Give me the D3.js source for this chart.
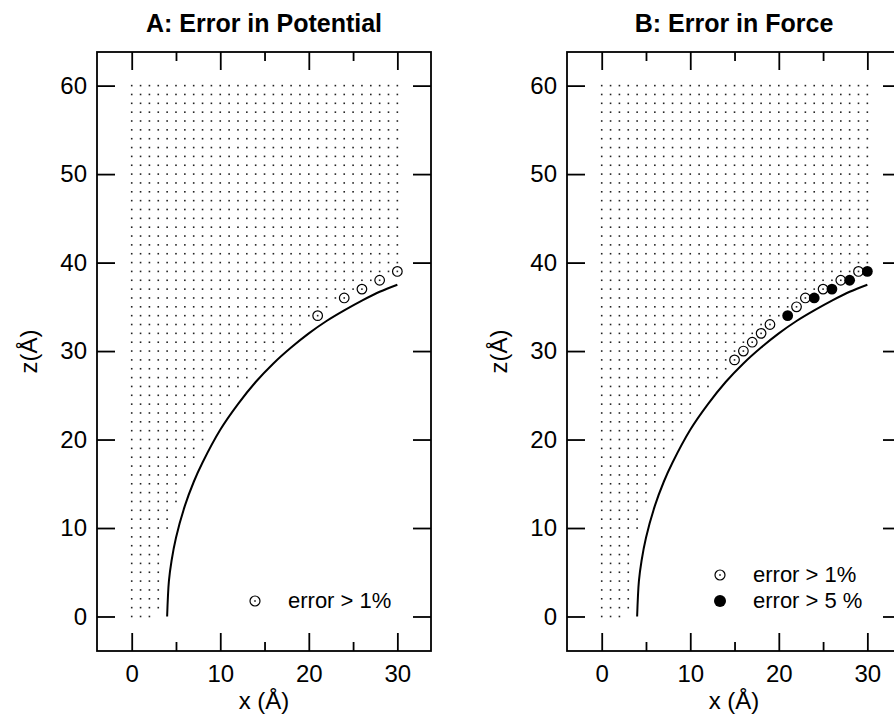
<!DOCTYPE html>
<html>
<head>
<meta charset="utf-8">
<script src="https://cdn.jsdelivr.net/npm/d3@7"></script>
<style>
body { margin: 0; background: #fff; }
svg { display: block; font-family: "Liberation Sans", Arial, sans-serif; }
.axis path { display: none; }
.axis line { stroke: #000; stroke-width: 1.8; }
.axis text { font-size: 24px; fill: #000; font-family: "Liberation Sans", Arial, sans-serif; }
</style>
</head>
<body>
<svg width="894" height="719"></svg>
<script>
// grid of sample points (Å)
const gridX = d3.range(0, 31);
const gridZ = d3.range(0, 61);
// last grid x kept in each row z = 0..38 (rows above keep all 31 points)
const rowMaxX = [2,3,3,3,3,3,3,3,3,3,4,4,4,5,5,5,6,6,7,7,8,8,9,10,10,11,12,13,14,15,16,17,18,19,21,22,24,26,28];

// boundary curve
const curveX = [4, 4.2, 4.5, 5, 6, 7, 8, 10, 12, 14, 16, 18, 20, 22, 24, 26, 28, 30];
const curveZ = [0, 4.0, 6.3, 8.9, 12.5, 15.2, 17.4, 21.1, 24, 26.5, 28.6, 30.4, 32, 33.4, 34.6, 35.7, 36.7, 37.5];

// points with error > 1% (open) and > 5% (filled)
const potOpenX = [21, 24, 26, 28, 30];
const potOpenZ = [34, 36, 37, 38, 39];
const forceOpenX = [15, 16, 17, 18, 19, 22, 23, 25, 27, 29];
const forceOpenZ = [29, 30, 31, 32, 33, 35, 36, 37, 38, 39];
const forceFullX = [21, 24, 26, 28, 30];
const forceFullZ = [34, 36, 37, 38, 39];

const xTicks = [0, 10, 20, 30];
const xMinor = [5, 15, 25];
const zTicks = [0, 10, 20, 30, 40, 50, 60];

const panels = [
  {left: 97, title: "A: Error in Potential", openX: potOpenX, openZ: potOpenZ, fullX: [], fullZ: [],
   legend: [{type: "open", label: "error > 1%", dx: 158, dy: 549}]},
  {left: 567, title: "B: Error in Force", openX: forceOpenX, openZ: forceOpenZ, fullX: forceFullX, fullZ: forceFullZ,
   legend: [{type: "open", label: "error > 1%", dx: 153, dy: 523},
            {type: "full", label: "error > 5 %", dx: 153, dy: 549}]}
];

const marginTop = 52, w = 334, h = 599;
const svg = d3.select("svg");

const x = d3.scaleLinear().domain([-3.92, 33.8]).range([0, w]);
const y = d3.scaleLinear().domain([-3.9, 63.8]).range([h, 0]);

// build dot list from rows
const dots = [];
gridZ.forEach(function(z) {
  const maxX = z < rowMaxX.length ? rowMaxX[z] : 30;
  gridX.forEach(function(gx) { if (gx <= maxX) dots.push([gx, z]); });
});

panels.forEach(function(p) {
  const g = svg.append("g").attr("transform", "translate(" + p.left + "," + marginTop + ")");

  // dots
  g.append("g").selectAll("rect")
    .data(dots)
    .enter()
    .append("rect")
    .attr("x", d => x(d[0]) - 0.8)
    .attr("y", d => y(d[1]) - 0.8)
    .attr("width", 1.6)
    .attr("height", 1.6)
    .attr("fill", "#222");

  // boundary
  const line = d3.line()
    .x(d => x(d[0]))
    .y(d => y(d[1]))
    .curve(d3.curveCatmullRom);
  g.append("path")
    .datum(curveX.map((cx, i) => [cx, curveZ[i]]))
    .attr("d", line)
    .attr("fill", "none")
    .attr("stroke", "#000")
    .attr("stroke-width", 2);

  // open markers
  g.append("g").selectAll("circle")
    .data(p.openX.map((ox, i) => [ox, p.openZ[i]]))
    .enter()
    .append("circle")
    .attr("cx", d => x(d[0]))
    .attr("cy", d => y(d[1]))
    .attr("r", 4.8)
    .attr("fill", "none")
    .attr("stroke", "#000")
    .attr("stroke-width", 1.2);

  // filled markers
  g.append("g").selectAll("circle")
    .data(p.fullX.map((fx, i) => [fx, p.fullZ[i]]))
    .enter()
    .append("circle")
    .attr("cx", d => x(d[0]))
    .attr("cy", d => y(d[1]))
    .attr("r", 5.4)
    .attr("fill", "#000");

  // axes, ticks pointing inward on all four sides
  g.append("g").attr("class", "axis")
    .attr("transform", "translate(0," + h + ")")
    .call(d3.axisBottom(x).tickValues(xTicks).tickSize(-18).tickSizeOuter(0).tickPadding(14));
  g.append("g").attr("class", "axis")
    .attr("transform", "translate(0," + h + ")")
    .call(d3.axisBottom(x).tickValues(xMinor).tickSize(-9).tickSizeOuter(0).tickFormat(""));
  g.append("g").attr("class", "axis")
    .call(d3.axisTop(x).tickValues(xTicks).tickSize(-18).tickSizeOuter(0).tickFormat(""));
  g.append("g").attr("class", "axis")
    .call(d3.axisTop(x).tickValues(xMinor).tickSize(-9).tickSizeOuter(0).tickFormat(""));
  g.append("g").attr("class", "axis")
    .call(d3.axisLeft(y).tickValues(zTicks).tickSize(-18).tickSizeOuter(0).tickPadding(10));
  g.append("g").attr("class", "axis")
    .attr("transform", "translate(" + w + ",0)")
    .call(d3.axisRight(y).tickValues(zTicks).tickSize(-18).tickSizeOuter(0).tickFormat(""));

  // frame
  g.append("rect")
    .attr("width", w)
    .attr("height", h)
    .attr("fill", "none")
    .attr("stroke", "#000")
    .attr("stroke-width", 1.8);

  // title
  g.append("text")
    .attr("x", w / 2)
    .attr("y", -20)
    .attr("text-anchor", "middle")
    .style("font-size", "25px")
    .style("font-weight", "bold")
    .text(p.title);

  // axis labels
  g.append("text")
    .attr("x", w / 2)
    .attr("y", h + 58)
    .attr("text-anchor", "middle")
    .style("font-size", "24px")
    .text("x (Å)");
  g.append("text")
    .attr("transform", "translate(-60," + (h / 2) + ") rotate(-90)")
    .attr("text-anchor", "middle")
    .style("font-size", "24px")
    .text("z(Å)");

  // legend
  p.legend.forEach(function(l) {
    if (l.type === "open") {
      g.append("circle").attr("cx", l.dx).attr("cy", l.dy).attr("r", 5)
        .attr("fill", "none").attr("stroke", "#000").attr("stroke-width", 1.2);
      g.append("rect").attr("x", l.dx - 0.8).attr("y", l.dy - 0.8)
        .attr("width", 1.6).attr("height", 1.6).attr("fill", "#222");
    } else {
      g.append("circle").attr("cx", l.dx).attr("cy", l.dy).attr("r", 6).attr("fill", "#000");
    }
    g.append("text")
      .attr("x", l.dx + 33)
      .attr("y", l.dy + 7)
      .style("font-size", "22px")
      .text(l.label);
  });
});
</script>
</body>
</html>
